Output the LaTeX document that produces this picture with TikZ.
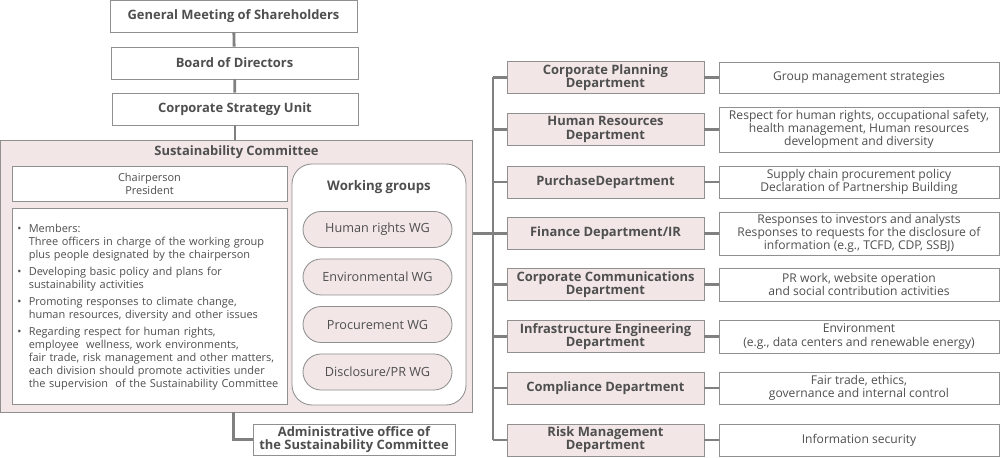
\documentclass[tikz,border=0pt]{standalone}
\usepackage{fontspec}
\setmainfont{Open Sans}
\usetikzlibrary{calc}
\usetikzlibrary{shapes.misc}

\definecolor{linegray}{HTML}{808080}
\definecolor{edgegray}{HTML}{909090}
\definecolor{rosefill}{HTML}{F2E6E6}
\definecolor{textgray}{HTML}{4F4F4F}

\newcommand{\mitem}[1]{\par\hangindent=1.05em\hangafter=1\noindent\makebox[1.05em][l]{\textbullet}#1\par}

\begin{document}
\begin{tikzpicture}[x=0.025cm,y=-0.025cm,
  every node/.style={text=textgray, font=\fontsize{8.6}{9.4}\selectfont},
  sized/.style 2 args={minimum width=#1*0.025cm, minimum height=#2*0.025cm, inner sep=0pt},
  plainbox/.style={draw=edgegray, line width=0.6pt, fill=white, align=center},
  rosebox/.style={draw=edgegray, line width=0.6pt, fill=rosefill, align=center},
  headfont/.style={font=\bfseries\fontsize{9.2}{9.4}\selectfont},
  wire/.style={draw=linegray, line width=2pt}]
\useasboundingbox (0,0) rectangle (1000,458);

% top of the chain
\node[plainbox, headfont, sized={247}{32}] (gms) at (233.5,16) {General Meeting of Shareholders};
\node[plainbox, headfont, sized={247}{32}] (bod) at (234.5,63) {Board of Directors};
\node[plainbox, headfont, sized={246}{32}] (csu) at (235,109) {Corporate Strategy Unit};

% committee block
\node[rosebox, sized={472}{272}] (sc) at (236.5,276) {};
\node[headfont] (sctitle) at (236.5,152.5) {Sustainability Committee};
\node[plainbox, sized={275}{35}, font=\fontsize{7.8}{9}\selectfont] (chair) at (149.5,184) {Chairperson\\President};
\node[plainbox, sized={275}{196}] (members) at (149.5,306) {};
\node[anchor=west, text width=6.75cm, inner sep=0pt, font=\fontsize{7.8}{9.2}\selectfont] (memtext) at (17,303) {%
\parskip=3pt
\mitem{Members:\newline Three officers in charge of the working group\newline plus people designated by the chairperson}
\mitem{Developing basic policy and plans for\newline sustainability activities}
\mitem{Promoting responses to climate change,\newline human resources, diversity and other issues}
\mitem{Regarding respect for human rights,\newline employee\ \ wellness, work environments,\newline fair trade, risk management and other matters,\newline each division should promote activities under\newline the supervision\ \ of the Sustainability Committee}};

\node[draw=edgegray, line width=0.6pt, fill=white, rounded corners=0.5cm, sized={174}{241}] (wg) at (379,284.5) {};
\node[font=\bfseries\fontsize{9.4}{9.4}\selectfont] (wgtitle) at (379,187) {Working groups};
\foreach \n/\y/\t in {hr/229.5/{Human rights WG}, env/277/{Environmental WG}, proc/324.5/{Procurement WG}, disc/372/{Disclosure/PR WG}}
  \node[rosebox, rounded rectangle, sized={149}{36}, font=\fontsize{9}{9}\selectfont] (wg\n) at (377.5,\y) {\t};

\node[plainbox, headfont, sized={202}{31}] (admin) at (354,439.5) {Administrative office of\\the Sustainability Committee};

\draw[wire] (gms) -- (bod);
\draw[wire] (bod) -- (csu);
\draw[wire] (csu.south) -- (csu.south |- sc.north);
\draw[wire] (sc.south -| gms.south) |- (admin.west);

% departments on the right
\coordinate (ttop) at (493,77.5);
\coordinate (tbot) at (493,440);
\draw[wire] (ttop) -- (tbot);
\foreach \i/\y/\h/\dept/\desc in {
  1/77.5/31/{Corporate Planning\\Department}/{Group management strategies},
  2/129.5/45/{Human Resources\\Department}/{Respect for human rights, occupational safety,\\health management, Human resources\\development and diversity},
  3/182/32/{PurchaseDepartment}/{Supply chain procurement policy\\Declaration of Partnership Building},
  4/233.5/43/{Finance Department/IR}/{Responses to investors and analysts\\Responses to requests for the disclosure of\\information (e.g., TCFD, CDP, SSBJ)},
  5/284.5/33/{Corporate Communications\\Department}/{PR work, website operation\\and social contribution activities},
  6/336.5/33/{Infrastructure Engineering\\Department}/{Environment\\(e.g., data centers and renewable energy)},
  7/388/32/{Compliance Department}/{Fair trade, ethics,\\governance and internal control},
  8/440/32/{Risk Management\\Department}/{Information security}}
{
  \node[rosebox, headfont, sized={197}{32}] (dept\i) at (605.5,\y) {\dept};
  \node[plainbox, sized={280}{\h}] (desc\i) at (859,\y) {\desc};
  \draw[wire] (dept\i) -- (desc\i);
  \draw[wire] (dept\i.west -| ttop) -- (dept\i.west);
}
\draw[wire] (sc.east |- dept4.west) -- (dept4.west -| ttop);
\end{tikzpicture}
\end{document}
